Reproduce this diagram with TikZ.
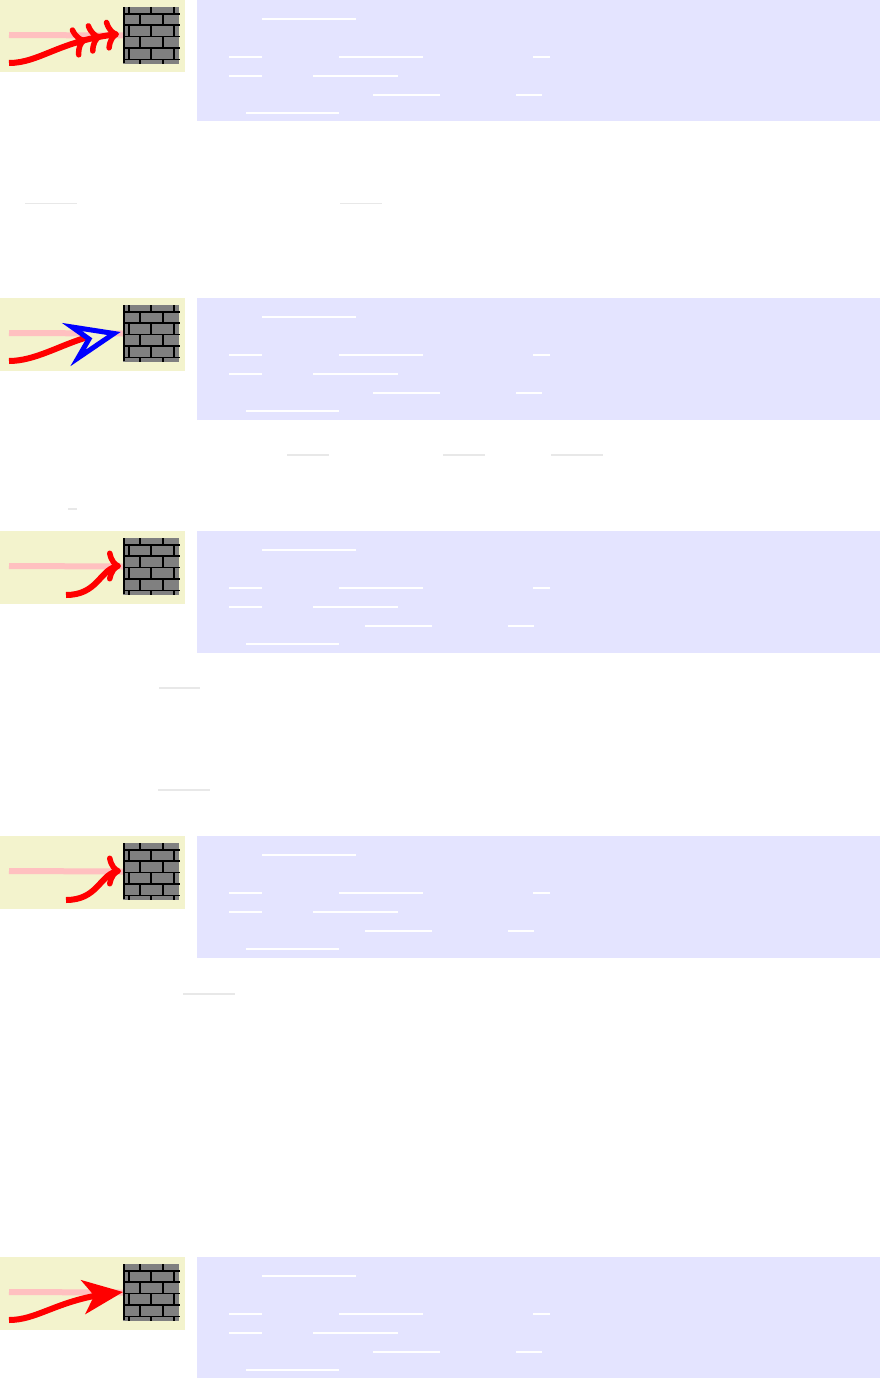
\documentclass[tikz,border=0pt]{standalone}
\usetikzlibrary{arrows.meta, bending}
\definecolor{tipbg}{HTML}{F3F3CD}
\definecolor{codebg}{HTML}{E4E4FF}
\definecolor{ghostpink}{HTML}{FFC0C0}
\definecolor{bargrey}{HTML}{E8E8E8}
\definecolor{wallgrey}{HTML}{808080}

\begin{document}
\begin{tikzpicture}[
  x=1pt, y=-1pt,
  tippanel/.style={fill=tipbg, draw=none, inner sep=0pt, minimum width=185pt, minimum height=73pt},
  codepanel/.style={fill=codebg, draw=none, inner sep=0pt, minimum width=683pt, minimum height=121.5pt},
  wall/.style={fill=wallgrey, draw=none, inner sep=0pt, minimum width=56pt, minimum height=57pt},
  mortar/.style={black, line width=1.3pt},
  post/.style={black, line width=2pt},
  ghost/.style={ghostpink, line width=6pt},
  shot/.style={red, line width=6pt},
  codebar/.style={white, line width=1.1pt},
  textbar/.style={bargrey, line width=1.4pt}
]
\useasboundingbox (0,0) rectangle (880,1378);

% one row per example: name, top edge, panel lift, first brick offset, shift of the code line
\foreach \name/\top/\lift/\oddrow/\shift in {a/0/-1/0/0, b/298/0/0/0, c/531/0/1/-8, d/836/0/1/-8, e/1257/0/1/0} {
  \begin{scope}[shift={(0,\top)}]
    \node[tippanel, anchor=north west] (tip\name) at (0,\lift) {};
    \node[codepanel, anchor=north west] (code\name) at (197,\lift) {};
    \node[wall] (wall\name) at (151,35.5) {};
    \coordinate (ghost\name) at (9,35);
    \draw[ghost] (ghost\name) -- (wall\name.west);
    % bricks
    \foreach \y in {14,25,36.5,48,59.5}
      \draw[mortar] (123,\y) -- (180,\y);
    \draw[post] (124,7) -- (124,63);
    \foreach \ya/\yb [count=\r] in {7/14,14/25,25/36.5,36.5/48,48/59.5,59.5/64} {
      \pgfmathtruncatemacro{\flip}{mod(\r+\oddrow,2)}
      \ifnum\flip=1
        \foreach \x in {129,151,174} \draw[mortar] (\x,\ya) -- (\x,\yb);
      \else
        \foreach \x in {140,163} \draw[mortar] (\x,\ya) -- (\x,\yb);
      \fi
    }
    % blanked code lines
    \draw[codebar] (262,19) -- (356,19);
    \draw[codebar] (229,57) -- (262,57) (339,57) -- (423,57) (533,57) -- (550,57);
    \draw[codebar] (229,76) -- (262,76) (313,76) -- (398,76);
    \draw[codebar] (373+\shift,95) -- (440+\shift,95) (516+\shift,95) -- (542+\shift,95);
    \draw[codebar] (246,113) -- (339,113);
  \end{scope}
}

% the arrows
\coordinate (starta) at (9,63);
\coordinate (enda) at (119,34);
\draw[shot, -{Computer Modern Rightarrow[length=14pt, width=31pt, line width=5.5pt, sep=4pt] Computer Modern Rightarrow[length=14pt, width=31pt, line width=5.5pt, sep=4pt] Computer Modern Rightarrow[length=14pt, width=31pt, line width=5.5pt]}]
  (starta) .. controls (40,63) and (60,40) .. (enda);

\coordinate (startb) at (9,361);
\coordinate (endb) at (122,333);
\draw[shot] (startb) .. controls (35,361) and (60,345) .. (88,337);
\draw[blue, line width=5pt, line join=miter, miter limit=10, fill=tipbg]
  (endb) ++(-8,0.5) -- (72,327) -- (89,339) -- (78,358) -- cycle;

\coordinate (startc) at (66,595);
\coordinate (endc) at (121,566);
\draw[shot, -{Computer Modern Rightarrow[length=14pt, width=31pt, line width=5.5pt]}]
  (startc) .. controls (100,595) and (100,566) .. (endc);

\coordinate (startd) at (66,900);
\coordinate (endd) at (121,871);
\draw[shot, -{Computer Modern Rightarrow[length=14pt, width=31pt, line width=5.5pt]}]
  (startd) .. controls (100,900) and (100,871) .. (endd);

\coordinate (starte) at (9,1320);
\coordinate (ende) at (123,1292);
\draw[shot, -{Stealth[length=40pt, width=34pt, inset=11pt, flex=0.9]}]
  (starte) .. controls (40,1320) and (60,1297) .. (ende);

% blanked words in the running text
\foreach \xa/\xb/\y [count=\i] in {25/77/203.5, 340/382/203.5, 287/329/455, 443/485/455, 551/603/455,
    68/77/509, 159/200/688, 158/210/790, 183/235/994} {
  \coordinate (bar\i l) at (\xa,\y);
  \coordinate (bar\i r) at (\xb,\y);
  \draw[textbar] (bar\i l) -- (bar\i r);
}

\end{tikzpicture}
\end{document}
